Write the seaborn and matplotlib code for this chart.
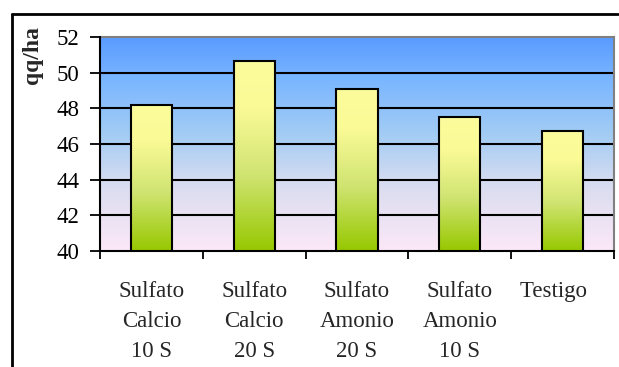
import numpy as np
import pandas as pd
import matplotlib
matplotlib.use("Agg")
import matplotlib.pyplot as plt
from matplotlib.colors import LinearSegmentedColormap
from matplotlib.lines import Line2D
import seaborn as sns

# Yield per treatment (qq/ha)
tratamientos = ["Sulfato\nCalcio\n10 S", "Sulfato\nCalcio\n20 S",
                "Sulfato\nAmonio\n20 S", "Sulfato\nAmonio\n10 S", "Testigo   "]
rendimiento = [48.2, 50.65, 49.1, 47.5, 46.75]
y_ticks = [40, 42, 44, 46, 48, 50, 52]

df = pd.DataFrame({"tratamiento": tratamientos, "rendimiento": rendimiento})

sns.set_style("white")
plt.rcParams["font.family"] = ["Liberation Serif", "DejaVu Serif"]

W, H = 619, 367
fig = plt.figure(figsize=(W / 100, H / 100), dpi=100)
ax = fig.add_axes([100 / W, (H - 251) / H, 514 / W, 214 / H])

sns.barplot(data=df, x="tratamiento", y="rendimiento", ax=ax,
            width=0.4, color="#C8E060", edgecolor="black", linewidth=1.5,
            zorder=3)

ax.set_ylim(40, 52)
ax.set_xlim(-0.5, len(tratamientos) - 0.5)

# Plot-area background gradient (pink at bottom to blue at top)
bg_cmap = LinearSegmentedColormap.from_list(
    "bg", [(0.0, "#FCE8F8"), (0.3, "#DADDF0"), (0.55, "#A2CCF4"),
           (0.8, "#7AB6FF"), (1.0, "#5A9BFF")])
grad = np.linspace(0, 1, 256).reshape(-1, 1)
ax.imshow(grad, cmap=bg_cmap, origin="lower", aspect="auto",
          extent=(-0.5, len(tratamientos) - 0.5, 40, 52), zorder=0)

# Bar fill gradient (green at base to pale yellow at top)
bar_cmap = LinearSegmentedColormap.from_list(
    "bar", [(0.0, "#96C800"), (0.4, "#D0E472"), (0.75, "#FAFA96"),
            (1.0, "#FCFC9C")])
for patch in ax.patches:
    x0, y0 = patch.get_x(), patch.get_y()
    w, h = patch.get_width(), patch.get_height()
    im = ax.imshow(grad, cmap=bar_cmap, origin="lower", aspect="auto",
                   extent=(x0, x0 + w, 40, y0 + h), zorder=3.5)
    im.set_clip_path(patch)
    patch.set_facecolor("none")
    patch.set_zorder(4)

# Horizontal gridlines
for v in y_ticks[1:-1]:
    ax.axhline(v, color="black", linewidth=1.5, zorder=2)

ax.set_yticks(y_ticks)
ax.set_yticklabels([str(v) for v in y_ticks], fontsize=16.5)

# Category ticks sit on the boundaries between bars
ax.set_xticks(np.arange(-0.5, len(tratamientos), 1.0))
ax.set_xticklabels([])
ax.tick_params(axis="x", direction="out", length=6, width=1.3, colors="black",
               bottom=True)
ax.tick_params(axis="y", direction="out", length=7, width=1.3, colors="black",
               left=True, pad=8)
for i, lab in enumerate(tratamientos):
    ax.text(i, -0.138, lab, transform=ax.get_xaxis_transform(),
            ha="center", va="top", fontsize=16.5, linespacing=1.58)

ax.set_xlabel("")
ax.set_ylabel("")
for side in ["left", "bottom"]:
    ax.spines[side].set_color("black")
    ax.spines[side].set_linewidth(1.5)
    ax.spines[side].set_zorder(5)
for side in ["top", "right"]:
    ax.spines[side].set_color("#808080")
    ax.spines[side].set_linewidth(1.5)

fig.text(33 / W, 1 - 55 / H, "qq/ha", rotation=90, ha="center", va="center",
         fontsize=17, fontweight="bold")

# Outer chart frame (top and left edges)
fig.add_artist(Line2D([12 / W, 618 / W], [1 - 14 / H, 1 - 14 / H],
                      transform=fig.transFigure, color="black", linewidth=2))
fig.add_artist(Line2D([12 / W, 12 / W], [1 - 14 / H, 0],
                      transform=fig.transFigure, color="black", linewidth=2))

fig.savefig("out.png", dpi=100)
